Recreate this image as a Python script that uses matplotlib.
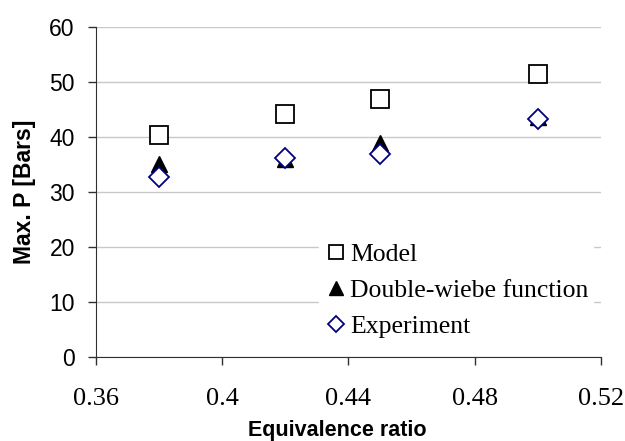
import matplotlib.pyplot as plt
import numpy as np

# Equivalence ratio values
phi = [0.38, 0.42, 0.45, 0.50]
# Max pressure [bar] per series
model = [40.3, 44.1, 46.9, 51.5]
wiebe = [35.1, 36.0, 39.0, 43.7]
experiment = [32.7, 36.2, 36.9, 43.2]

x_ticks = [0.36, 0.4, 0.44, 0.48, 0.52]
x_labels = ["0.36", "0.4", "0.44", "0.48", "0.52"]
y_ticks = [0, 10, 20, 30, 40, 50, 60]

fig = plt.figure(figsize=(6.25, 4.41), dpi=100)
ax = fig.add_axes([0.153, 0.19, 0.809, 0.749])

# Gridlines (horizontal only)
ax.grid(axis="y", color="#c8c8c8", linewidth=1.0)
ax.set_axisbelow(True)

ax.plot(phi, model, marker="s", linestyle="", markersize=12.5,
        markerfacecolor="white", markeredgecolor="black", markeredgewidth=1.3, label="Model")
ax.plot(phi, wiebe, marker="^", linestyle="", markersize=12,
        markerfacecolor="black", markeredgecolor="black", label="Double-wiebe function")
ax.plot(phi, experiment, marker="D", linestyle="", markersize=10,
        markerfacecolor="white", markeredgecolor="#000080", markeredgewidth=1.3, label="Experiment")

ax.set_xlim(0.36, 0.52)
ax.set_ylim(0, 60)
ax.set_xticks(x_ticks)
ax.set_xticklabels(x_labels, fontfamily="Liberation Serif", fontsize=19)
ax.set_yticks(y_ticks)
for t in ax.get_yticklabels():
    t.set_fontfamily("Liberation Sans")
    t.set_fontsize(16.5)

ax.tick_params(axis="both", direction="out", length=6, color="#303030", width=1)
ax.tick_params(axis="x", pad=16)
ax.tick_params(axis="y", pad=9)
ax.spines["top"].set_visible(False)
ax.spines["right"].set_visible(False)
ax.spines["left"].set_color("#303030")
ax.spines["bottom"].set_color("#303030")

ax.set_xlabel("Equivalence ratio", fontfamily="Liberation Sans", fontweight="bold", fontsize=15.5)
ax.set_ylabel("Max. P [Bars]", fontfamily="Liberation Sans", fontweight="bold", fontsize=16.5)
ax.xaxis.set_label_coords(0.477, -0.19)
ax.yaxis.set_label_coords(-0.118, 0.5)

leg = ax.legend(loc="upper left", bbox_to_anchor=(0.442, 0.36), frameon=True,
                prop={"family": "Liberation Serif", "size": 18.5},
                handletextpad=0.1, handlelength=0.9, markerscale=0.8, labelspacing=0.5,
                borderaxespad=0.0, borderpad=0.2, fancybox=False)
leg.get_frame().set_edgecolor("white")
leg.get_frame().set_facecolor("white")
leg.get_frame().set_alpha(1.0)

fig.savefig("out.png", dpi=100)
